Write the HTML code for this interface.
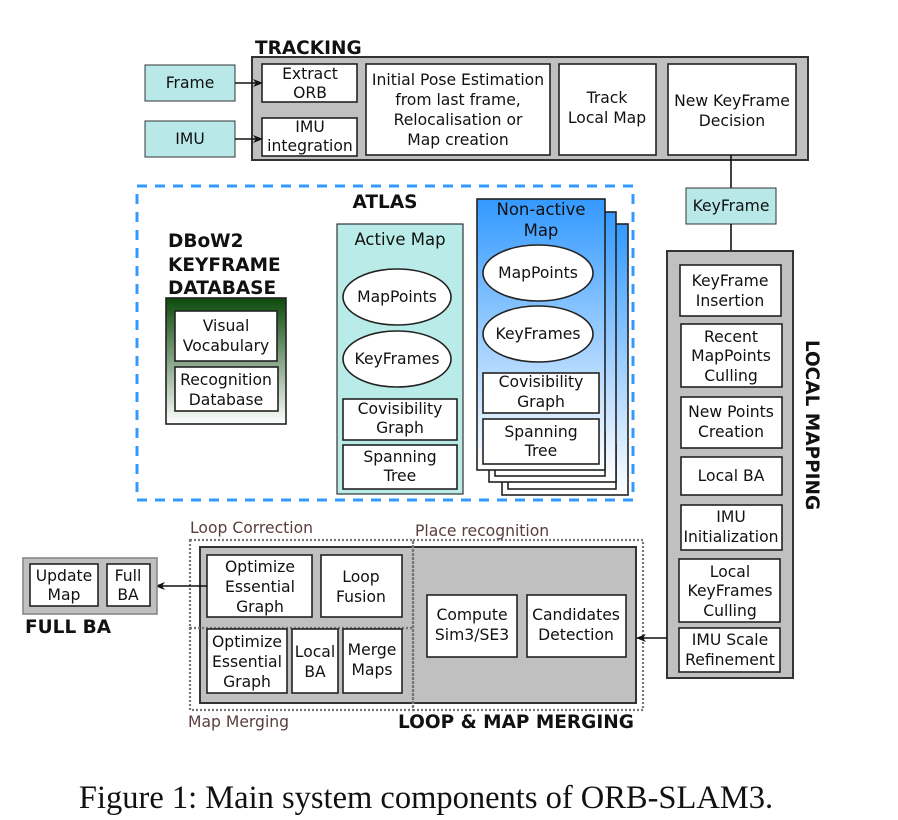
<!DOCTYPE html>
<html><head><meta charset="utf-8"><style>
html,body{margin:0;padding:0;background:#fff;}
svg{display:block}
text{font-family:"DejaVu Sans","Liberation Sans",sans-serif;font-size:15.6px;fill:#111;}
.b{font-weight:bold;font-size:18.5px;}
.w{fill:#fff;stroke:#222;stroke-width:1.6}
.g{fill:#c0c0c0;stroke:#333;stroke-width:2}
.t{fill:#b8e8e8;stroke:#333;stroke-width:1}
.lbl{fill:#5a3e3e;font-size:15.6px}
</style></head><body>
<svg width="898" height="820" viewBox="0 0 898 820" xmlns="http://www.w3.org/2000/svg">
<defs>
<marker id="ar" markerWidth="10" markerHeight="10" refX="9" refY="5" orient="auto" markerUnits="userSpaceOnUse"><path d="M0,1 L10,5 L0,9 L3,5 z" fill="#111"/></marker>
<linearGradient id="gg" x1="0" y1="0" x2="0" y2="1"><stop offset="0" stop-color="#0b4a0b"/><stop offset="1" stop-color="#ffffff"/></linearGradient>
<linearGradient id="bg" x1="0" y1="0" x2="0" y2="1"><stop offset="0" stop-color="#3399ff"/><stop offset="1" stop-color="#ffffff"/></linearGradient>
</defs>
<g text-anchor="middle">
<text class="b" x="255" y="54" text-anchor="start">TRACKING</text>
<rect class="g" x="252" y="57" width="556" height="103"/>
<rect class="t" x="145" y="65" width="90" height="36"/><text x="190" y="88">Frame</text>
<rect class="t" x="145" y="121" width="90" height="36"/><text x="190" y="144">IMU</text>
<line x1="235" y1="83" x2="262" y2="83" stroke="#111" stroke-width="1.6" marker-end="url(#ar)"/>
<line x1="235" y1="139" x2="262" y2="139" stroke="#111" stroke-width="1.6" marker-end="url(#ar)"/>
<rect class="w" x="262" y="64" width="95" height="38"/><text x="310" y="79">Extract</text><text x="310" y="98">ORB</text>
<rect class="w" x="262" y="118" width="95" height="38"/><text x="310" y="132">IMU</text><text x="310" y="151">integration</text>
<rect class="w" x="366" y="64" width="184" height="91"/><text x="458" y="85">Initial Pose Estimation</text><text x="458" y="105">from last frame,</text><text x="458" y="125">Relocalisation or</text><text x="458" y="145">Map creation</text>
<rect class="w" x="559" y="64" width="97" height="91"/><text x="607" y="103">Track</text><text x="607" y="123">Local Map</text>
<rect class="w" x="668" y="64" width="128" height="91"/><text x="732" y="106">New KeyFrame</text><text x="732" y="126">Decision</text>
<line x1="731" y1="155" x2="731" y2="188" stroke="#111" stroke-width="1.6"/>
<rect class="t" x="686" y="188" width="90" height="36"/><text x="731" y="211">KeyFrame</text>
<line x1="731" y1="224" x2="731" y2="265" stroke="#111" stroke-width="1.6" marker-end="url(#ar)"/>
<rect class="g" x="667" y="251" width="126" height="427"/>
<rect class="w" x="680" y="265" width="101" height="51"/><text x="730" y="286">KeyFrame</text><text x="730" y="306">Insertion</text>
<rect class="w" x="681" y="324" width="101" height="63"/><text x="731" y="342">Recent</text><text x="731" y="361">MapPoints</text><text x="731" y="381">Culling</text>
<rect class="w" x="681" y="397" width="101" height="51"/><text x="731" y="417">New Points</text><text x="731" y="437">Creation</text>
<rect class="w" x="681" y="457" width="101" height="38"/><text x="731" y="481">Local BA</text>
<rect class="w" x="681" y="505" width="101" height="45"/><text x="731" y="522">IMU</text><text x="731" y="542">Initialization</text>
<rect class="w" x="679" y="559" width="101" height="63"/><text x="730" y="577">Local</text><text x="730" y="596">KeyFrames</text><text x="730" y="616">Culling</text>
<rect class="w" x="679" y="628" width="101" height="44"/><text x="730" y="645">IMU Scale</text><text x="730" y="665">Refinement</text>
<text class="b" transform="translate(806,425) rotate(90)">LOCAL MAPPING</text>
<rect x="137" y="186" width="496" height="314" fill="none" stroke="#3399ff" stroke-width="3" stroke-dasharray="10,8"/>
<text class="b" x="385" y="208">ATLAS</text>
<text class="b" x="168" y="247" text-anchor="start">DBoW2</text>
<text class="b" x="168" y="271" text-anchor="start">KEYFRAME</text>
<text class="b" x="168" y="294" text-anchor="start">DATABASE</text>
<rect x="166" y="298" width="120" height="126" fill="url(#gg)" stroke="#222" stroke-width="1.6"/>
<rect class="w" x="175" y="311" width="102" height="50"/><text x="226" y="331">Visual</text><text x="226" y="351">Vocabulary</text>
<rect class="w" x="175" y="367" width="103" height="44"/><text x="226" y="385">Recognition</text><text x="226" y="405">Database</text>
<rect x="337" y="224" width="126" height="270" fill="#b9ece8" stroke="#333" stroke-width="1.2"/>
<text x="400" y="245" style="font-size:16.5px">Active Map</text>
<ellipse cx="397" cy="297" rx="54" ry="28" class="w"/><text x="397" y="302">MapPoints</text>
<ellipse cx="397" cy="359" rx="54" ry="28" class="w"/><text x="397" y="364">KeyFrames</text>
<rect class="w" x="343" y="399" width="114" height="41"/><text x="400" y="414">Covisibility</text><text x="400" y="433">Graph</text>
<rect class="w" x="343" y="445" width="114" height="44"/><text x="400" y="462">Spanning</text><text x="400" y="481">Tree</text>
<rect x="502" y="224" width="126" height="271" fill="url(#bg)" stroke="#222" stroke-width="1.6"/>
<rect x="508" y="445" width="108" height="44" class="w"/>
<rect x="489" y="212" width="127" height="270" fill="url(#bg)" stroke="#222" stroke-width="1.6"/>
<rect x="495" y="432" width="110" height="44" class="w"/>
<rect x="477" y="199" width="128" height="271" fill="url(#bg)" stroke="#222" stroke-width="1.6"/>
<text x="541" y="215" style="font-size:16.5px">Non-active</text><text x="541" y="236" style="font-size:16.5px">Map</text>
<ellipse cx="538" cy="273" rx="55" ry="28" class="w"/><text x="538" y="278">MapPoints</text>
<ellipse cx="538" cy="334" rx="55" ry="28" class="w"/><text x="538" y="339">KeyFrames</text>
<rect class="w" x="483" y="373" width="116" height="40"/><text x="541" y="387">Covisibility</text><text x="541" y="407">Graph</text>
<rect class="w" x="483" y="419" width="116" height="45"/><text x="541" y="437">Spanning</text><text x="541" y="456">Tree</text>
<rect class="g" x="200" y="547" width="436" height="156"/>
<rect x="190" y="540" width="223" height="88" fill="none" stroke="#777" stroke-width="2.2" stroke-dasharray="2,2"/>
<rect x="190" y="628" width="223" height="82" fill="none" stroke="#777" stroke-width="2.2" stroke-dasharray="2,2"/>
<rect x="413" y="540" width="230" height="170" fill="none" stroke="#777" stroke-width="2.2" stroke-dasharray="2,2"/>
<text class="lbl" x="190" y="533" text-anchor="start">Loop Correction</text>
<text class="lbl" x="415" y="536" text-anchor="start">Place recognition</text>
<text class="lbl" x="188" y="727" text-anchor="start">Map Merging</text>
<text class="b" x="398" y="728" text-anchor="start">LOOP &amp; MAP MERGING</text>
<rect class="w" x="207" y="555" width="105" height="62"/><text x="260" y="572">Optimize</text><text x="260" y="592">Essential</text><text x="260" y="612">Graph</text>
<rect class="w" x="321" y="555" width="81" height="62"/><text x="361" y="582">Loop</text><text x="361" y="602">Fusion</text>
<rect class="w" x="207" y="629" width="80" height="64"/><text x="247" y="647">Optimize</text><text x="247" y="667">Essential</text><text x="247" y="687">Graph</text>
<rect class="w" x="292" y="629" width="46" height="64"/><text x="315" y="657">Local</text><text x="315" y="677">BA</text>
<rect class="w" x="343" y="629" width="59" height="64"/><text x="372" y="655">Merge</text><text x="372" y="675">Maps</text>
<rect class="w" x="427" y="595" width="90" height="62"/><text x="472" y="620">Compute</text><text x="472" y="640">Sim3/SE3</text>
<rect class="w" x="527" y="595" width="99" height="62"/><text x="576" y="620">Candidates</text><text x="576" y="640">Detection</text>
<line x1="667" y1="638" x2="637" y2="638" stroke="#111" stroke-width="1.6" marker-end="url(#ar)"/>
<line x1="207" y1="586" x2="156" y2="586" stroke="#111" stroke-width="1.6" marker-end="url(#ar)"/>
<rect x="23" y="558" width="134" height="56" fill="#c0c0c0" stroke="#888" stroke-width="1.6"/>
<rect class="w" x="30" y="564" width="68" height="42"/><text x="64" y="581">Update</text><text x="64" y="600">Map</text>
<rect class="w" x="107" y="564" width="43" height="42"/><text x="128" y="581">Full</text><text x="128" y="600">BA</text>
<text class="b" x="25" y="633" text-anchor="start">FULL BA</text>
<text x="426" y="808" style="font-family:'Liberation Serif',serif;font-size:32.5px">Figure 1: Main system components of ORB-SLAM3.</text>
</g>
</svg>
</body></html>
